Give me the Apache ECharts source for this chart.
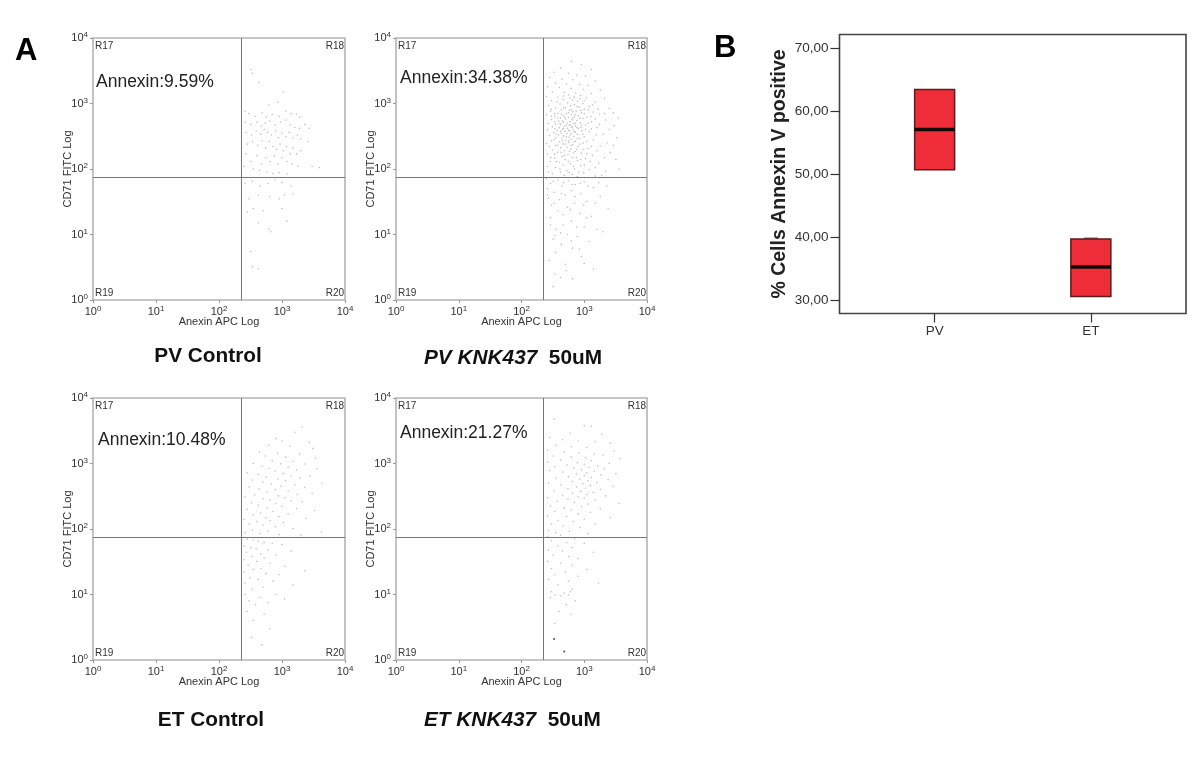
<!DOCTYPE html>
<html>
<head>
<meta charset="utf-8">
<style>html,body{margin:0;padding:0;background:#fff}#c{width:1200px;height:770px}</style>
<script src="https://cdn.jsdelivr.net/npm/echarts@6/dist/echarts.min.js"></script>
</head>
<body>
<div id="c"></div>
<script>
const pvControlPoints=[[320,3300],[340,2900],[430,2100],[1050,1500],[860,1050],[620,950],[260,760],[300,700],[380,640],[480,720],[560,620],[700,680],[900,640],[1150,760],[1400,700],[1700,690],[1900,620],[2300,480],[2700,420],[260,520],[320,480],[400,520],[470,450],[540,500],[640,540],[780,470],[950,520],[1150,560],[1350,470],[1600,430],[1900,420],[270,360],[330,330],[390,380],[460,340],[520,400],[590,360],[680,330],[790,380],[880,300],[1000,350],[1150,310],[1300,360],[1500,300],[1750,330],[2000,290],[2600,260],[280,240],[340,260],[410,230],[480,270],[550,210],[630,260],[720,220],[820,200],[930,240],[1050,190],[1180,220],[1350,170],[1500,210],[1700,170],[2000,190],[270,170],[320,130],[400,160],[470,120],[560,150],[650,130],[760,160],[870,120],[1000,150],[1200,130],[1450,120],[1800,110],[3000,110],[3900,105],[250,110],[350,100],[440,95],[580,90],[720,85],[900,88],[1200,84],[260,60],[340,65],[450,55],[600,60],[780,68],[1000,62],[1400,55],[420,40],[300,35],[640,38],[900,35],[1100,40],[1500,42],[350,25],[280,22],[500,23],[1000,25],[420,15],[1200,16],[620,12],[660,11],[320,5.5],[340,3.2],[420,3]];
const pvKnkPoints=[[620,4400],[900,3900],[420,3500],[1300,3300],[330,3000],[560,2900],[760,2700],[1050,2600],[280,2500],[440,2350],[660,2300],[1500,2200],[350,2050],[520,2000],[840,1950],[1150,1900],[260,1800],[400,1750],[620,1700],[960,1650],[1800,1600],[310,1500],[480,1480],[730,1450],[1300,1420],[560,1350],[880,1320],[250,1280],[380,1260],[1080,1220],[2100,1200],[460,1150],[650,1130],[300,1100],[780,1080],[1500,1050],[540,1020],[950,1000],[410,980],[700,960],[270,930],[610,920],[1200,900],[830,880],[350,860],[500,850],[2500,840],[1000,820],[430,800],[580,790],[740,770],[290,760],[660,750],[1400,740],[900,720],[380,710],[520,700],[1750,690],[620,680],[250,670],[460,660],[800,650],[340,640],[700,630],[1100,620],[560,610],[420,600],[960,590],[500,580],[300,570],[640,565],[2200,560],[760,550],[390,540],[600,530],[1300,525],[470,520],[860,510],[540,505],[270,500],[680,490],[350,485],[420,475],[1050,470],[580,465],[3000,460],[730,455],[490,450],[310,440],[620,435],[1600,430],[400,425],[540,420],[800,415],[450,405],[660,400],[260,395],[370,390],[920,385],[580,380],[490,375],[1200,370],[720,365],[330,360],[430,355],[620,350],[530,345],[2000,340],[780,335],[390,330],[280,325],[470,320],[680,315],[1000,310],[570,305],[350,300],[440,295],[850,290],[620,285],[1400,280],[510,275],[300,270],[730,265],[400,260],[560,255],[960,250],[250,245],[460,240],[660,235],[350,230],[1800,225],[800,220],[530,215],[420,210],[1150,205],[610,200],[310,195],[480,190],[720,185],[380,180],[2600,178],[900,175],[260,170],[550,165],[1350,160],[440,155],[650,150],[340,147],[1050,143],[500,140],[780,135],[290,130],[400,127],[1700,123],[600,120],[460,115],[880,112],[260,108],[350,105],[700,100],[1200,97],[530,94],[2200,92],[420,90],[980,88],[310,85],[640,82],[480,80],[1500,78],[780,77],[250,72],[380,68],[560,66],[1000,64],[290,60],[720,58],[440,55],[1400,52],[260,50],[620,47],[330,44],[880,42],[500,40],[1800,38],[270,36],[400,34],[1100,32],[700,30],[300,28],[540,26],[2400,25],[380,23],[850,21],[1300,19],[290,18],[620,16],[460,14],[1000,13],[350,12],[2000,11],[540,10],[780,9.3],[320,8.5],[1200,7.8],[430,7],[650,6.2],[350,5.3],[900,4.6],[280,4],[500,3.5],[1400,3],[340,2.5],[650,2.1],[320,1.6]];
const pvKnkExtraPoints=[[470,1300],[690,1250],[850,1180],[370,1050],[590,1200],[1000,1100],[1350,950],[300,820],[760,900],[1150,800],[470,860],[620,800],[880,780],[1650,820],[340,700],[720,680],[1000,700],[1280,640],[560,720],[430,690],[490,620],[300,640],[850,600],[650,600],[2900,720],[3500,600],[1500,580],[2100,700],[600,470],[380,600],[720,500],[900,470],[450,540],[340,530],[1150,500],[520,470],[650,440],[410,500],[770,430],[560,390],[1050,400],[470,420],[340,410],[880,430],[600,330],[690,370],[520,310],[420,380],[780,290],[360,340],[950,340],[1300,410],[1750,480],[2500,400],[3300,300],[570,270],[450,270],[330,280],[690,260],[850,240],[1100,260],[1550,330],[620,230],[500,240],[380,230],[280,220],[760,200],[950,200],[1300,220],[2300,250],[2900,230],[430,180],[580,185],[670,175],[340,170],[1100,170],[1600,190],[2100,150],[290,150],[480,160],[750,150],[880,140],[1250,130],[3200,140],[360,130],[560,130],[680,110],[1000,115],[1500,105],[410,100],[270,90],[580,88],[820,90],[3600,100],[1900,80],[320,65],[470,62],[640,58],[860,60],[1150,55],[1700,62],[260,40],[430,42],[720,38],[1500,30],[330,30],[980,28],[2300,55],[600,24],[460,20],[1100,18],[760,13],[290,14],[420,10.5],[1600,12],[620,8],[840,6],[340,9.6],[520,2.8],[1000,3.6],[420,2.2]];
const etControlPoints=[[2100,3600],[1600,3000],[800,2400],[1000,2200],[2700,2100],[620,1900],[1350,1850],[3100,1700],[440,1500],[850,1450],[1900,1400],[540,1300],[1150,1250],[3400,1200],[700,1100],[1500,1080],[350,1000],[950,990],[2300,980],[480,900],[1250,880],[620,840],[3600,830],[1700,800],[780,770],[280,720],[1050,700],[420,680],[1400,650],[2800,640],[560,620],[1950,600],[860,580],[340,560],[1150,545],[500,520],[4300,500],[680,490],[1600,470],[960,450],[300,440],[2300,430],[430,410],[780,400],[1250,380],[580,370],[3000,350],[1750,340],[370,330],[880,320],[260,310],[1100,300],[500,290],[650,280],[1400,270],[2100,260],[330,250],[800,245],[420,230],[1000,220],[580,210],[1700,205],[280,200],[3300,190],[720,185],[460,175],[1250,170],[350,165],[900,155],[560,150],[2400,145],[250,140],[650,135],[400,130],[1050,125],[300,118],[500,115],[780,108],[1500,102],[340,96],[600,92],[4200,90],[260,88],[450,85],[900,82],[2000,80],[280,70],[350,68],[420,65],[520,62],[700,60],[1000,58],[250,55],[320,52],[390,50],[600,48],[1400,46],[270,44],[460,42],[800,40],[340,38],[520,36],[250,34],[400,32],[650,30],[290,28],[1100,27],[470,25],[350,24],[2300,23],[250,22],[560,21],[900,20],[310,18],[420,17],[720,16],[260,15],[1500,14],[500,13],[340,12],[260,10],[800,10],[450,9],[1100,8.5],[300,8],[600,7.5],[380,7],[280,5.5],[520,5],[350,4],[640,3],[330,2.2],[480,1.7]];
const etKnkPoints=[[330,4800],[1000,3800],[1300,3700],[600,2900],[1900,2800],[280,2500],[450,2300],[800,2200],[1500,2150],[2600,2050],[350,1900],[620,1800],[1100,1750],[260,1600],[3000,1550],[480,1500],[820,1450],[1450,1400],[2000,1350],[320,1300],[620,1250],[1050,1220],[3700,1180],[420,1120],[1300,1100],[260,1050],[780,1030],[2500,1000],[1000,970],[530,950],[1650,920],[340,890],[1200,870],[680,850],[2100,830],[900,800],[280,780],[1450,760],[450,740],[1100,720],[3200,700],[750,690],[1850,670],[1000,650],[560,630],[1300,610],[350,600],[850,580],[2400,570],[1150,550],[650,530],[1600,510],[270,500],[950,490],[430,470],[1250,460],[2900,450],[750,440],[1050,420],[550,410],[1800,400],[330,380],[880,375],[1400,360],[650,350],[1100,335],[450,325],[2200,320],[800,310],[260,300],[1000,295],[550,285],[1500,275],[370,265],[700,255],[3600,245],[1150,240],[290,225],[900,220],[480,210],[1800,205],[620,195],[340,185],[1250,180],[800,170],[260,160],[520,155],[2600,150],[1000,142],[380,135],[670,130],[300,120],[1500,118],[460,110],[850,105],[270,95],[580,92],[350,88],[1150,85],[420,80],[260,76],[700,72],[300,66],[520,62],[1000,60],[380,56],[640,52],[270,48],[450,46],[1400,44],[320,40],[560,38],[800,35],[260,32],[420,30],[650,28],[300,25],[1100,24],[500,22],[340,20],[800,19],[270,17],[560,16],[1700,15],[380,14],[640,12],[300,11],[480,10.5],[340,9.8],[420,9.5],[560,9.8],[600,11],[290,9],[720,8],[520,7],[400,5.5],[610,5],[340,3.6]];
const etKnkDarkPoints=[[330,2.1],[480,1.35]];
const boxCategories=['PV','ET'];
const boxLower=[50.7,30.6];
const boxUpper=[63.45,39.7];
const boxMedian=[57.1,35.25];
const boxWhiskerTop=[63.45,39.85];
const boxTicks=[30,40,50,60,70];
const gateX=226,gateY=74.7;

const panels=[
 {left:93,top:38,w:252,h:262,pts:pvControlPoints},
 {left:396,top:38,w:251,h:262,pts:pvKnkPoints.concat(pvKnkExtraPoints)},
 {left:93,top:398,w:252,h:262,pts:etControlPoints},
 {left:396,top:398,w:251,h:262,pts:etKnkPoints,dark:etKnkDarkPoints}
];
const annex=[
 {t:'Annexin:9.59%',x:96,y:82},{t:'Annexin:34.38%',x:400,y:78},
 {t:'Annexin:10.48%',x:98,y:440},{t:'Annexin:21.27%',x:400,y:433}
];
const FF='"Liberation Sans",Arial,sans-serif';
const decadeFmt=v=>'{b|10}{s|'+Math.round(Math.log10(v))+'}';
const decadeRich={b:{fontSize:11,color:'#333',fontFamily:FF},s:{fontSize:8,color:'#333',fontFamily:FF,padding:[0,0,6,0]}};

const grid=[],xAxis=[],yAxis=[],series=[],graphic=[];
panels.forEach((p,i)=>{
 grid.push({left:p.left,top:p.top,width:p.w,height:p.h,show:true,borderColor:'#b4b4b4',borderWidth:1.6,backgroundColor:'#fff'});
 const ax={type:'log',logBase:10,min:1,max:10000,gridIndex:i,nameLocation:'middle',nameMoveOverlap:false,
   nameTextStyle:{fontSize:11,color:'#333',fontFamily:FF},
   axisLine:{show:false},axisTick:{show:true,length:3,lineStyle:{color:'#999'}},minorTick:{show:false},
   splitLine:{show:false},minorSplitLine:{show:false},
   axisLabel:{formatter:decadeFmt,rich:decadeRich,margin:5,hideOverlap:false}};
 xAxis.push(Object.assign({},ax,{name:'Anexin APC Log',nameGap:16}));
 yAxis.push(Object.assign({},ax,{name:'CD71 FITC Log',nameGap:20}));
 series.push({type:'scatter',xAxisIndex:i,yAxisIndex:i,data:p.pts,symbolSize:1.6,silent:true,animation:false,
   itemStyle:{color:'#b0b0b0',opacity:.8},
   markLine:{silent:true,symbol:'none',animation:false,label:{show:false},lineStyle:{color:'#777',width:1,type:'solid'},
     data:[{xAxis:gateX},{yAxis:gateY}]}});
 if(p.dark)series.push({type:'scatter',xAxisIndex:i,yAxisIndex:i,data:p.dark,symbolSize:2,silent:true,animation:false,itemStyle:{color:'#223'}});
 const r=(t,x,y,a)=>graphic.push({type:'text',x,y,style:{text:t,fontSize:10,fill:'#333',fontFamily:FF,align:a,verticalAlign:'middle'}});
 r('R17',p.left+2,p.top+8,'left');r('R18',p.left+p.w-1,p.top+8,'right');
 r('R19',p.left+2,p.top+p.h-7,'left');r('R20',p.left+p.w-1,p.top+p.h-7,'right');
 graphic.push({type:'text',x:annex[i].x,y:annex[i].y,style:{text:annex[i].t,fontSize:17.5,fill:'#222',fontFamily:FF,verticalAlign:'middle'}});
});
// Panel B
const b=panels.length;
grid.push({left:839.5,top:34.5,width:346.5,height:279,show:true,borderColor:'#444',borderWidth:1.6,backgroundColor:'#fff'});
xAxis.push({type:'value',gridIndex:b,min:-0.609,max:1.609,splitLine:{show:false},axisLine:{show:false,onZero:false},
  axisTick:{show:true,length:9,lineStyle:{color:'#333',width:1.2},customValues:[0,1]},
  axisLabel:{customValues:[0,1],formatter:v=>boxCategories[v],fontSize:13.5,color:'#333',fontFamily:FF,margin:11}});
yAxis.push({type:'value',gridIndex:b,min:27.88,max:72.2,splitLine:{show:false},axisLine:{show:false,onZero:false},
  name:'% Cells Annexin V positive',nameLocation:'middle',nameGap:50,
  nameTextStyle:{fontSize:19.5,fontWeight:'bold',color:'#222',fontFamily:FF},
  axisTick:{show:true,length:9,lineStyle:{color:'#333',width:1.2},customValues:boxTicks},
  axisLabel:{customValues:boxTicks,formatter:v=>v.toFixed(2).replace('.',','),fontSize:13.5,color:'#333',fontFamily:FF,margin:11}});
series.push({type:'custom',xAxisIndex:b,yAxisIndex:b,silent:true,animation:false,clip:false,
  encode:{x:0,y:[1,2,3,4]},
  data:boxCategories.map((c,i)=>[i,boxLower[i],boxUpper[i],boxMedian[i],boxWhiskerTop[i]]),
  renderItem(params,api){
    const x=api.value(0),hw=0.128;
    const tl=api.coord([x-hw,api.value(2)]),br=api.coord([x+hw,api.value(1)]);
    const ml=api.coord([x-hw,api.value(3)]),mr=api.coord([x+hw,api.value(3)]);
    const wt=api.coord([x,api.value(4)]);
    const children=[
      {type:'rect',shape:{x:tl[0],y:tl[1],width:br[0]-tl[0],height:br[1]-tl[1]},
       style:{fill:'#ee2d38',stroke:'#5b1c20',lineWidth:1.5}},
      {type:'line',shape:{x1:ml[0],y1:ml[1],x2:mr[0],y2:mr[1]},style:{stroke:'#120808',lineWidth:3.5}}
    ];
    if(wt[1]<tl[1]-0.2)children.push({type:'line',shape:{x1:wt[0]-7,y1:wt[1],x2:wt[0]+7,y2:wt[1]},style:{stroke:'#5b1c20',lineWidth:1}});
    return {type:'group',children};
  }});
// Labels
const bigB=(t,x,y)=>graphic.push({type:'text',x,y,style:{text:t,fontSize:31,fontWeight:'bold',fill:'#000',fontFamily:FF,verticalAlign:'middle'}});
bigB('A',15,51);bigB('B',714,48);
const capFill='#111';
const cap=(t,x,y)=>graphic.push({type:'text',x,y,style:{text:t,fontSize:20.8,fontWeight:'bold',fill:capFill,fontFamily:FF,align:'center',verticalAlign:'middle'}});
cap('PV Control',208,356);cap('ET Control',211,720);
const capIt=(a,x,y)=>graphic.push({type:'text',x,y,style:{text:'{i|'+a+'}{n|  50uM}',fontFamily:FF,fontSize:20.8,fontWeight:'bold',fill:capFill,align:'left',verticalAlign:'middle',
  rich:{i:{fontFamily:FF,fontSize:20.8,fontWeight:'bold',fontStyle:'italic',fill:capFill},n:{fontFamily:FF,fontSize:20.8,fontWeight:'bold',fill:capFill}}}});
capIt('PV KNK437',424,358);capIt('ET KNK437',424,720);

const chart=echarts.init(document.getElementById('c'),null,{renderer:'canvas'});
chart.setOption({animation:false,backgroundColor:'#fff',textStyle:{fontFamily:FF},grid,xAxis,yAxis,series,graphic});
</script>
</body>
</html>
